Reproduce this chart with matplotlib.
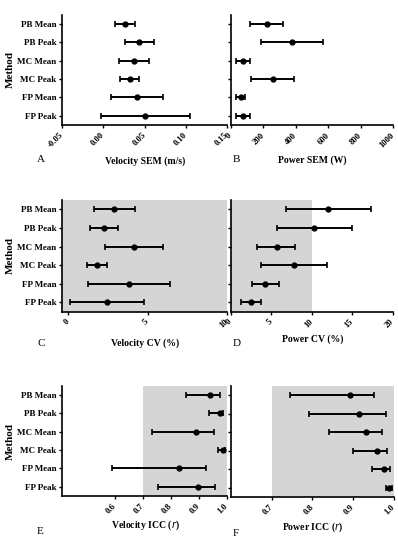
import matplotlib
matplotlib.use("Agg")
import matplotlib.pyplot as plt

W, H = 398, 541
plt.rcParams['font.family'] = ['Liberation Serif', 'DejaVu Serif']

methods = ["PB Mean", "PB Peak", "MC Mean", "MC Peak", "FP Mean", "FP Peak"]

vel_sem_mean = [0.0264, 0.0435, 0.037, 0.032, 0.041, 0.0508]
vel_sem_lo = [0.0146, 0.026, 0.0187, 0.020, 0.0094, -0.0028]
vel_sem_hi = [0.039, 0.062, 0.0557, 0.0439, 0.073, 0.105]

pow_sem_mean = [224, 380, 75, 260, 61, 75]
pow_sem_lo = [118, 189, 35, 126, 30, 35]
pow_sem_hi = [325, 569, 116, 392, 87, 116]

vel_cv_mean = [2.91, 2.26, 4.15, 1.82, 3.82, 2.43]
vel_cv_lo = [1.64, 1.38, 2.35, 1.22, 1.24, 0.1]
vel_cv_hi = [4.19, 3.17, 5.96, 2.43, 6.42, 4.76]

pow_cv_mean = [12.0, 10.3, 5.7, 7.8, 4.3, 2.5]
pow_cv_lo = [6.8, 5.7, 3.3, 3.7, 2.6, 1.3]
pow_cv_hi = [17.3, 15.0, 8.0, 11.9, 6.0, 3.7]

vel_icc_mean = [0.938, 0.974, 0.889, 0.986, 0.828, 0.896]
vel_icc_lo = [0.855, 0.936, 0.733, 0.968, 0.587, 0.754]
vel_icc_hi = [0.974, 0.986, 0.952, 0.992, 0.926, 0.956]

pow_icc_mean = [0.893, 0.914, 0.932, 0.958, 0.976, 0.988]
pow_icc_lo = [0.745, 0.793, 0.841, 0.900, 0.947, 0.980]
pow_icc_hi = [0.952, 0.980, 0.970, 0.982, 0.990, 0.996]

fig = plt.figure(figsize=(W / 100, H / 100), dpi=100)


def rect(x0, x1, yt, yb):
    return [x0 / W, 1 - yb / H, (x1 - x0) / W, (yb - yt) / H]


def panel(r, mean, lo, hi, xlim, xticks, xticklabels, xlabel, letter, lpos, xlpos,
          band=None, ylabels=True):
    ax = fig.add_axes(r)
    ypos = list(range(len(methods)))
    xerr = [[m - l for m, l in zip(mean, lo)], [h - m for m, h in zip(mean, hi)]]
    if band is not None:
        ax.axvspan(band[0], band[1], color='#d5d5d5', zorder=0, lw=0)
    ax.errorbar(mean, ypos, xerr=xerr, fmt='o', color='black', ms=3.5,
                elinewidth=1.4, capsize=2.5, capthick=1.2, zorder=3)
    ax.set_xlim(*xlim)
    ax.set_ylim(5.5, -0.5)
    ax.set_yticks(ypos)
    if ylabels:
        ax.set_yticklabels(methods, fontsize=6.5, fontweight='bold')
    else:
        ax.set_yticklabels([])
    ax.set_xticks(xticks)
    ax.set_xticklabels(xticklabels, rotation=45, ha='right', va='center',
                       rotation_mode='anchor', fontsize=6.2, fontweight='bold')
    for s in ['top', 'right']:
        ax.spines[s].set_visible(False)
    for s in ['left', 'bottom']:
        ax.spines[s].set_linewidth(1.2)
    ax.tick_params(axis='y', length=2.5, width=1, pad=1.5)
    ax.tick_params(axis='x', length=2.5, width=1, pad=4)
    ax.patch.set_alpha(0)
    fig.text(lpos[0] / W, 1 - lpos[1] / H, letter, fontsize=8, ha='left', va='center')
    fig.text(xlpos[0] / W, 1 - xlpos[1] / H, xlabel, fontsize=7, fontweight='bold',
             ha='center', va='center')
    return ax


# Row 1
panel(rect(62, 227, 15, 125), vel_sem_mean, vel_sem_lo, vel_sem_hi,
      (-0.05, 0.15), [-0.05, 0.0, 0.05, 0.10, 0.15],
      ["-0.05", "0.00", "0.05", "0.10", "0.15"],
      "Velocity SEM (m/s)", "A", (37, 160), (145, 161))
panel(rect(230.7, 393, 15, 125), pow_sem_mean, pow_sem_lo, pow_sem_hi,
      (0, 1000), [0, 200, 400, 600, 800, 1000],
      ["0", "200", "400", "600", "800", "1000"],
      "Power SEM (W)", "B", (233, 160), (312, 160), ylabels=False)

# Row 2
panel(rect(62, 227, 200, 311.7), vel_cv_mean, vel_cv_lo, vel_cv_hi,
      (-0.38, 10), [0, 5, 10], ["0", "5", "10"],
      "Velocity CV (%)", "C", (37, 344), (145, 343), band=(-0.38, 10))
panel(rect(230.7, 392.5, 200, 311.7), pow_cv_mean, pow_cv_lo, pow_cv_hi,
      (0, 20), [0, 5, 10, 15, 20], ["0", "5", "10", "15", "20"],
      "Power CV (%)", "D", (233, 344), (313, 339), band=(0, 10), ylabels=False)

# Row 3
panel(rect(62, 227, 386, 496), vel_icc_mean, vel_icc_lo, vel_icc_hi,
      (0.41, 1.0), [0.6, 0.7, 0.8, 0.9, 1.0], ["0.6", "0.7", "0.8", "0.9", "1.0"],
      "Velocity ICC ($\\mathbf{\\mathit{r}}$)", "E", (37, 531), (145, 525), band=(0.7, 1.0))
panel(rect(230.7, 394, 386, 497), pow_icc_mean, pow_icc_lo, pow_icc_hi,
      (0.6, 1.0), [0.7, 0.8, 0.9, 1.0], ["0.7", "0.8", "0.9", "1.0"],
      "Power ICC ($\\mathbf{\\mathit{r}}$)", "F", (233, 533), (313, 527),
      band=(0.7, 1.0), ylabels=False)

for yc in [70, 256, 441]:
    fig.text(10 / W, 1 - yc / H, "Method", rotation=90, fontsize=8, fontweight='bold',
             ha='center', va='center')

fig.savefig("out.png", dpi=100)
